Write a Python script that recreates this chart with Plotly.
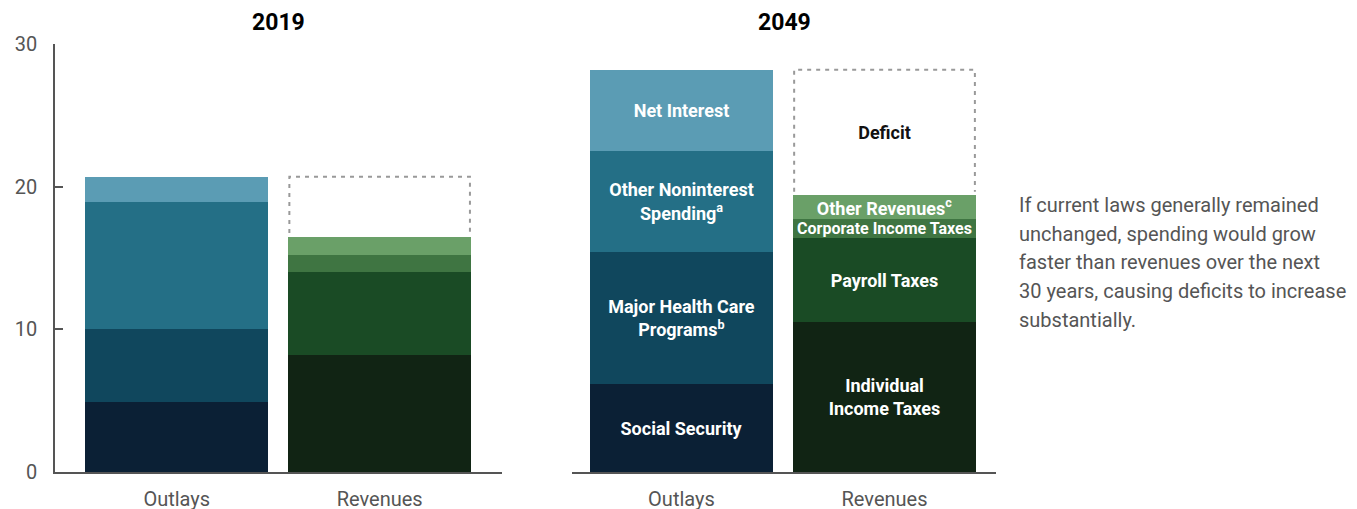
import plotly.graph_objects as go

# values in percentage of GDP
categories = ["Outlays", "Revenues"]
years = ["2019", "2049"]

outlay_names = ["Social Security", "Major Health Care Programs", "Other Noninterest Spending", "Net Interest"]
outlays_2019 = [4.9, 5.1, 8.9, 1.8]
outlays_2049 = [6.2, 9.2, 7.1, 5.7]
outlay_labels_2049 = ["Social Security", "Major Health Care<br>Programs<sup>b</sup>",
                      "Other Noninterest<br>Spending<sup>a</sup>", "Net Interest"]

revenue_names = ["Individual Income Taxes", "Payroll Taxes", "Corporate Income Taxes", "Other Revenues"]
revenues_2019 = [8.2, 5.8, 1.2, 1.3]
revenues_2049 = [10.5, 5.9, 1.3, 1.7]
revenue_labels_2049 = ["Individual<br>Income Taxes", "Payroll Taxes", "Corporate Income Taxes",
                       "Other Revenues<sup>c</sup>"]

note_lines = ["If current laws generally remained",
              "unchanged, spending would grow",
              "faster than revenues over the next",
              "30 years, causing deficits to increase",
              "substantially."]

outlay_colors = ["#0b2035", "#10475d", "#246f86", "#5b9cb4"]
revenue_colors = ["#112414", "#1a4b25", "#3f7542", "#6aa068"]
label_sizes = [18, 18, 16, 18]

FONT = "Roboto"
GRAY = "#555555"
BAR_W = 0.9
# the page body has an 8px margin, so the figure is laid out 8px smaller
W, H = 1349, 501
OFF = 8

fig = go.Figure()

panels = [
    ("x", "y", outlays_2019, revenues_2019, None, None),
    ("x2", "y2", outlays_2049, revenues_2049, outlay_labels_2049, revenue_labels_2049),
]

for xa, ya, outs, revs, out_lbl, rev_lbl in panels:
    for i, v in enumerate(outs):
        fig.add_trace(go.Bar(
            x=[0], y=[v], width=BAR_W, xaxis=xa, yaxis=ya, name=outlay_names[i],
            marker=dict(color=outlay_colors[i], line=dict(width=0)),
            text=[out_lbl[i]] if out_lbl else None, textposition="inside",
            insidetextanchor="middle", constraintext="none",
            textfont=dict(family=FONT, size=18, color="white", weight="bold"),
            showlegend=False, hoverinfo="skip"))
    for i, v in enumerate(revs):
        fig.add_trace(go.Bar(
            x=[1], y=[v], width=BAR_W, xaxis=xa, yaxis=ya, name=revenue_names[i],
            marker=dict(color=revenue_colors[i], line=dict(width=0)),
            text=[rev_lbl[i]] if rev_lbl else None, textposition="inside",
            insidetextanchor="middle", constraintext="none",
            textfont=dict(family=FONT, size=label_sizes[i], color="white", weight="bold"),
            showlegend=False, hoverinfo="skip"))
    # deficit gap: transparent bar stacked on revenues, outlined with a dashed open box
    total_out = round(sum(outs), 2)
    total_rev = round(sum(revs), 2)
    fig.add_trace(go.Bar(
        x=[1], y=[total_out - total_rev], width=BAR_W, xaxis=xa, yaxis=ya, name="Deficit",
        marker=dict(color="rgba(0,0,0,0)", line=dict(width=0)),
        text=["Deficit"] if rev_lbl else None, textposition="inside",
        insidetextanchor="middle", constraintext="none",
        textfont=dict(family=FONT, size=18, color="#111111", weight="bold"),
        showlegend=False, hoverinfo="skip"))
    x0, x1 = 1 - BAR_W / 2 + 0.005, 1 + BAR_W / 2 - 0.005
    y0 = total_rev + 0.25
    fig.add_shape(type="path", xref=xa, yref=ya,
                  path=f"M {x0},{y0} L {x0},{total_out} L {x1},{total_out} L {x1},{y0}",
                  line=dict(color="#999999", width=2, dash="4px,5px"))

axis_common = dict(showline=True, linecolor=GRAY, linewidth=1.5, showgrid=False,
                   zeroline=False, ticks="", tickvals=[0, 1], ticktext=categories,
                   tickfont=dict(family=FONT, size=20, color=GRAY), ticklabelstandoff=8,
                   fixedrange=True, automargin=False)

top, bottom = 44 - OFF, 472 - OFF

fig.update_layout(
    width=W, height=H,
    margin=dict(l=0, r=0, t=top, b=H - bottom),
    paper_bgcolor="white", plot_bgcolor="white",
    barmode="stack", bargap=0,
    font=dict(family=FONT, color=GRAY),
    xaxis=dict(domain=[(55 - OFF) / W, (502 - OFF) / W], range=[-0.6, 1.603], anchor="y", **axis_common),
    xaxis2=dict(domain=[(572 - OFF) / W, (996 - OFF) / W], range=[-0.539, 1.549], anchor="y2", **axis_common),
    yaxis=dict(range=[0, 30], tickvals=[0, 10, 20, 30], showline=True, linecolor=GRAY,
               linewidth=1.5, ticks="inside", ticklen=8, tickcolor=GRAY, tickwidth=1.5,
               showgrid=False, zeroline=False, ticklabelstandoff=12, automargin=False,
               tickfont=dict(family=FONT, size=20, color=GRAY), anchor="x"),
    yaxis2=dict(range=[0, 30], visible=False, anchor="x2"),
)

for xa, year in zip(["x", "x2"], years):
    fig.add_annotation(text=f"<b>{year}</b>", xref=f"{xa} domain", yref="paper",
                       x=0.5, y=1, yshift=22, showarrow=False,
                       font=dict(family=FONT, size=23, color="#000000"), yanchor="middle")

plot_h = bottom - top
for i, line in enumerate(note_lines):
    fig.add_annotation(text=line, xref="paper", yref="paper", x=(1017 - OFF) / W,
                       y=(472 - 205 - 28.7 * i) / plot_h, xanchor="left", yanchor="middle",
                       align="left", showarrow=False,
                       font=dict(family=FONT, size=20, color=GRAY))

fig.write_html("out.html")
